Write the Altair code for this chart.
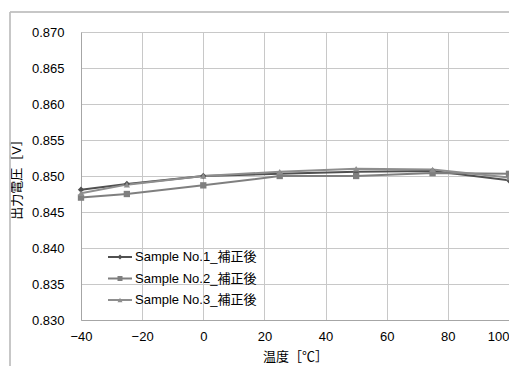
import altair as alt
import pandas as pd

temps = [-40, -25, 0, 25, 50, 75, 100]
series_names = ["Sample No.1_補正後", "Sample No.2_補正後", "Sample No.3_補正後"]
s1 = [0.8481, 0.8489, 0.8500, 0.8503, 0.8506, 0.8507, 0.8494]
s2 = [0.8470, 0.8475, 0.8487, 0.8500, 0.8500, 0.8504, 0.8503]
s3 = [0.8476, 0.8488, 0.8500, 0.8506, 0.8510, 0.8509, 0.8498]
y_ticks = [0.830, 0.835, 0.840, 0.845, 0.850, 0.855, 0.860, 0.865, 0.870]
x_ticks = [-40, -20, 0, 20, 40, 60, 80, 100]
colors = ["#505050", "#7f7f7f", "#8e8e8e"]
shapes = ["diamond", "square", "triangle-up"]

rows = []
for name, vals in zip(series_names, [s1, s2, s3]):
    for t, v in zip(temps, vals):
        rows.append({"temp": t, "volt": v, "Series": name})
df = pd.DataFrame(rows)
leg = pd.DataFrame({"Series": series_names})

FONT = "Liberation Sans, Arial, Noto Sans CJK JP"

color_scale = alt.Scale(domain=series_names, range=colors)
shape_scale = alt.Scale(domain=series_names, range=shapes)

x_axis = alt.Axis(values=x_ticks, title="温度［℃］", grid=True, labelFlush=False,
                  labelAlign=alt.condition("datum.value >= 100", alt.value("right"), alt.value("center")),
                  ticks=False, labelPadding=10, domainColor="#a6a6a6",
                  gridColor="#c8c8c8", labelFontSize=13, titleFontSize=13,
                  titleFontWeight="normal", labelColor="#000", titleColor="#000",
                  labelFont=FONT, titleFont=FONT, titlePadding=7)
y_axis = alt.Axis(values=y_ticks, format=".3f", title="出力電圧［V］", grid=True,
                  ticks=False, labelPadding=17, domainColor="#a6a6a6", labelFlush=False,
                  gridColor="#c8c8c8", labelFontSize=13, titleFontSize=13,
                  titleFontWeight="normal", labelColor="#000", titleColor="#000",
                  labelFont=FONT, titleFont=FONT, titlePadding=8, labelOverlap=False)
x_scale = alt.Scale(domain=[-40, 100], nice=False)
y_scale = alt.Scale(domain=[0.830, 0.870], nice=False, zero=False)

xenc = alt.X("temp:Q", scale=x_scale, axis=x_axis)
yenc = alt.Y("volt:Q", scale=y_scale, axis=y_axis)

frame = alt.Chart(leg).mark_rect(fill=None, stroke="#bfbfbf", strokeWidth=1, clip=False).encode(
    x=alt.value(-71), x2=alt.value(560), y=alt.value(-20), y2=alt.value(420)
)

lines = alt.Chart(df).mark_line(strokeWidth=2, clip=False).encode(
    x=xenc, y=yenc,
    color=alt.Color("Series:N", scale=color_scale, legend=None),
    detail="Series:N",
)
points = alt.Chart(df).mark_point(filled=True, size=40, opacity=1, clip=False).encode(
    x=xenc, y=yenc,
    color=alt.Color("Series:N", scale=color_scale, legend=None),
    shape=alt.Shape("Series:N", scale=shape_scale, legend=None),
)

# manual legend (layout positions are style, not data)
LEG_Y0, LEG_DY = 225, 21.5
legend_parts = []
for i, name in enumerate(series_names):
    one = pd.DataFrame({"Series": [name]})
    ypos = LEG_Y0 + i * LEG_DY
    legend_parts.append(alt.Chart(one).mark_rule(strokeWidth=2).encode(
        x=alt.value(27), x2=alt.value(51), y=alt.value(ypos),
        color=alt.Color("Series:N", scale=color_scale, legend=None)))
    legend_parts.append(alt.Chart(one).mark_point(filled=True, size=25, opacity=1).encode(
        x=alt.value(39), y=alt.value(ypos),
        color=alt.Color("Series:N", scale=color_scale, legend=None),
        shape=alt.Shape("Series:N", scale=shape_scale, legend=None)))
    legend_parts.append(alt.Chart(one).mark_text(align="left", baseline="middle", fontSize=13,
                                                 font=FONT, color="#000").encode(
        x=alt.value(54), y=alt.value(ypos), text="Series:N"))

chart = alt.layer(frame, lines, points, *legend_parts).properties(
    width=428, height=288,
    autosize=alt.AutoSizeParams(type="none"),
    padding={"left": 73, "top": 24, "right": 0, "bottom": 46},
).configure_view(stroke="#c8c8c8").configure(background="white")

chart.save("out.html", embed_options={"renderer": "svg", "actions": False})
